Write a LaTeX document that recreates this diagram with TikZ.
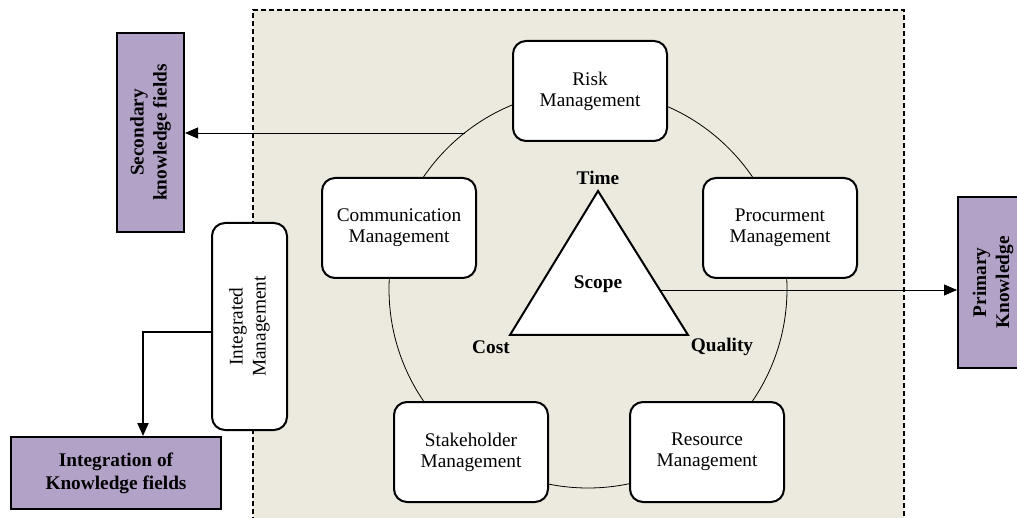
\documentclass[tikz,border=0pt]{standalone}
\usepackage{fontspec}
\setmainfont{Liberation Serif}
\usetikzlibrary{arrows.meta}
\definecolor{beige}{HTML}{ECEADF}
\definecolor{lilac}{HTML}{B3A2C7}
\begin{document}
\begin{tikzpicture}[x=1pt,y=-1pt,
  font=\fontsize{19.3}{21}\selectfont,
  mgmt/.style={draw, line width=2pt, fill=white, rounded corners=13pt, align=center,
    minimum width=154pt, minimum height=100pt, inner sep=0pt},
  field/.style={draw, line width=2pt, fill=lilac, align=center, inner sep=0pt,
    font=\fontsize{19.3}{23}\selectfont\bfseries},
  lbl/.style={font=\fontsize{19.3}{21}\selectfont\bfseries, inner sep=0pt},
  arr/.style={-{Triangle[length=13pt,width=11pt]}, line width=0.9pt},
  thickarr/.style={-{Triangle[length=13pt,width=11pt]}, line width=2pt}]
\useasboundingbox (0,0) rectangle (1017,518);
% frame
\fill[beige] (253,10) rectangle (904,530);
\draw[line width=1.5pt, dash pattern=on 5pt off 3pt] (253,530) -- (253,10) -- (904,10) -- (904,530);
% circle
\node[draw, circle, line width=0.8pt, minimum size=398pt, inner sep=0pt] (ring) at (588,289) {};
\coordinate (s0) at (464.5,133);
% boxes
\node[mgmt] (risk) at (590,91) {Risk\\Management};
\node[mgmt] (proc) at (780,228) {Procurment\\Management};
\node[mgmt] (comm) at (399,228) {Communication\\Management};
\node[mgmt] (stak) at (471,452) {Stakeholder\\Management};
\node[mgmt] (reso) at (707,452) {Resource\\Management};
\node[draw, line width=2pt, fill=white, rounded corners=13pt, align=center,
  minimum width=207pt, minimum height=75pt, inner sep=0pt, rotate=90,
  font=\fontsize{19.3}{23}\selectfont] (integ) at (249.5,326.5) {Integrated\\Management};
% triangle
\coordinate (tA) at (598,191);
\coordinate (tB) at (510,335);
\coordinate (tC) at (688,335);
\filldraw[fill=white, line width=2pt, line join=miter] (tA) -- (tB) -- (tC) -- cycle;
\coordinate (p0) at (660,290);
\node[lbl] (time) at (598,178) {Time};
\node[lbl] (scope) at (598,284) {Scope};
\node[lbl] (cost) at (491,347) {Cost};
\node[lbl] (qual) at (722,347) {Quality};
% outer fields
\node[field, minimum width=199pt, minimum height=67pt, rotate=90] (sec) at (150.5,132.5) {Secondary\\knowledge fields};
\node[field, minimum width=171pt, minimum height=70pt, rotate=90] (prim) at (993,282.5) {Primary\\Knowledge};
\node[field, minimum width=210pt, minimum height=72pt] (ikf) at (116,473) {Integration of\\Knowledge fields};
% connectors
\draw[arr] (s0) -- (sec.south |- s0);
\draw[arr] (p0) -- (prim.north |- p0);
\draw[thickarr] ([yshift=-5.5pt]integ.north) -| ([xshift=27pt]ikf.north);
\end{tikzpicture}
\end{document}
